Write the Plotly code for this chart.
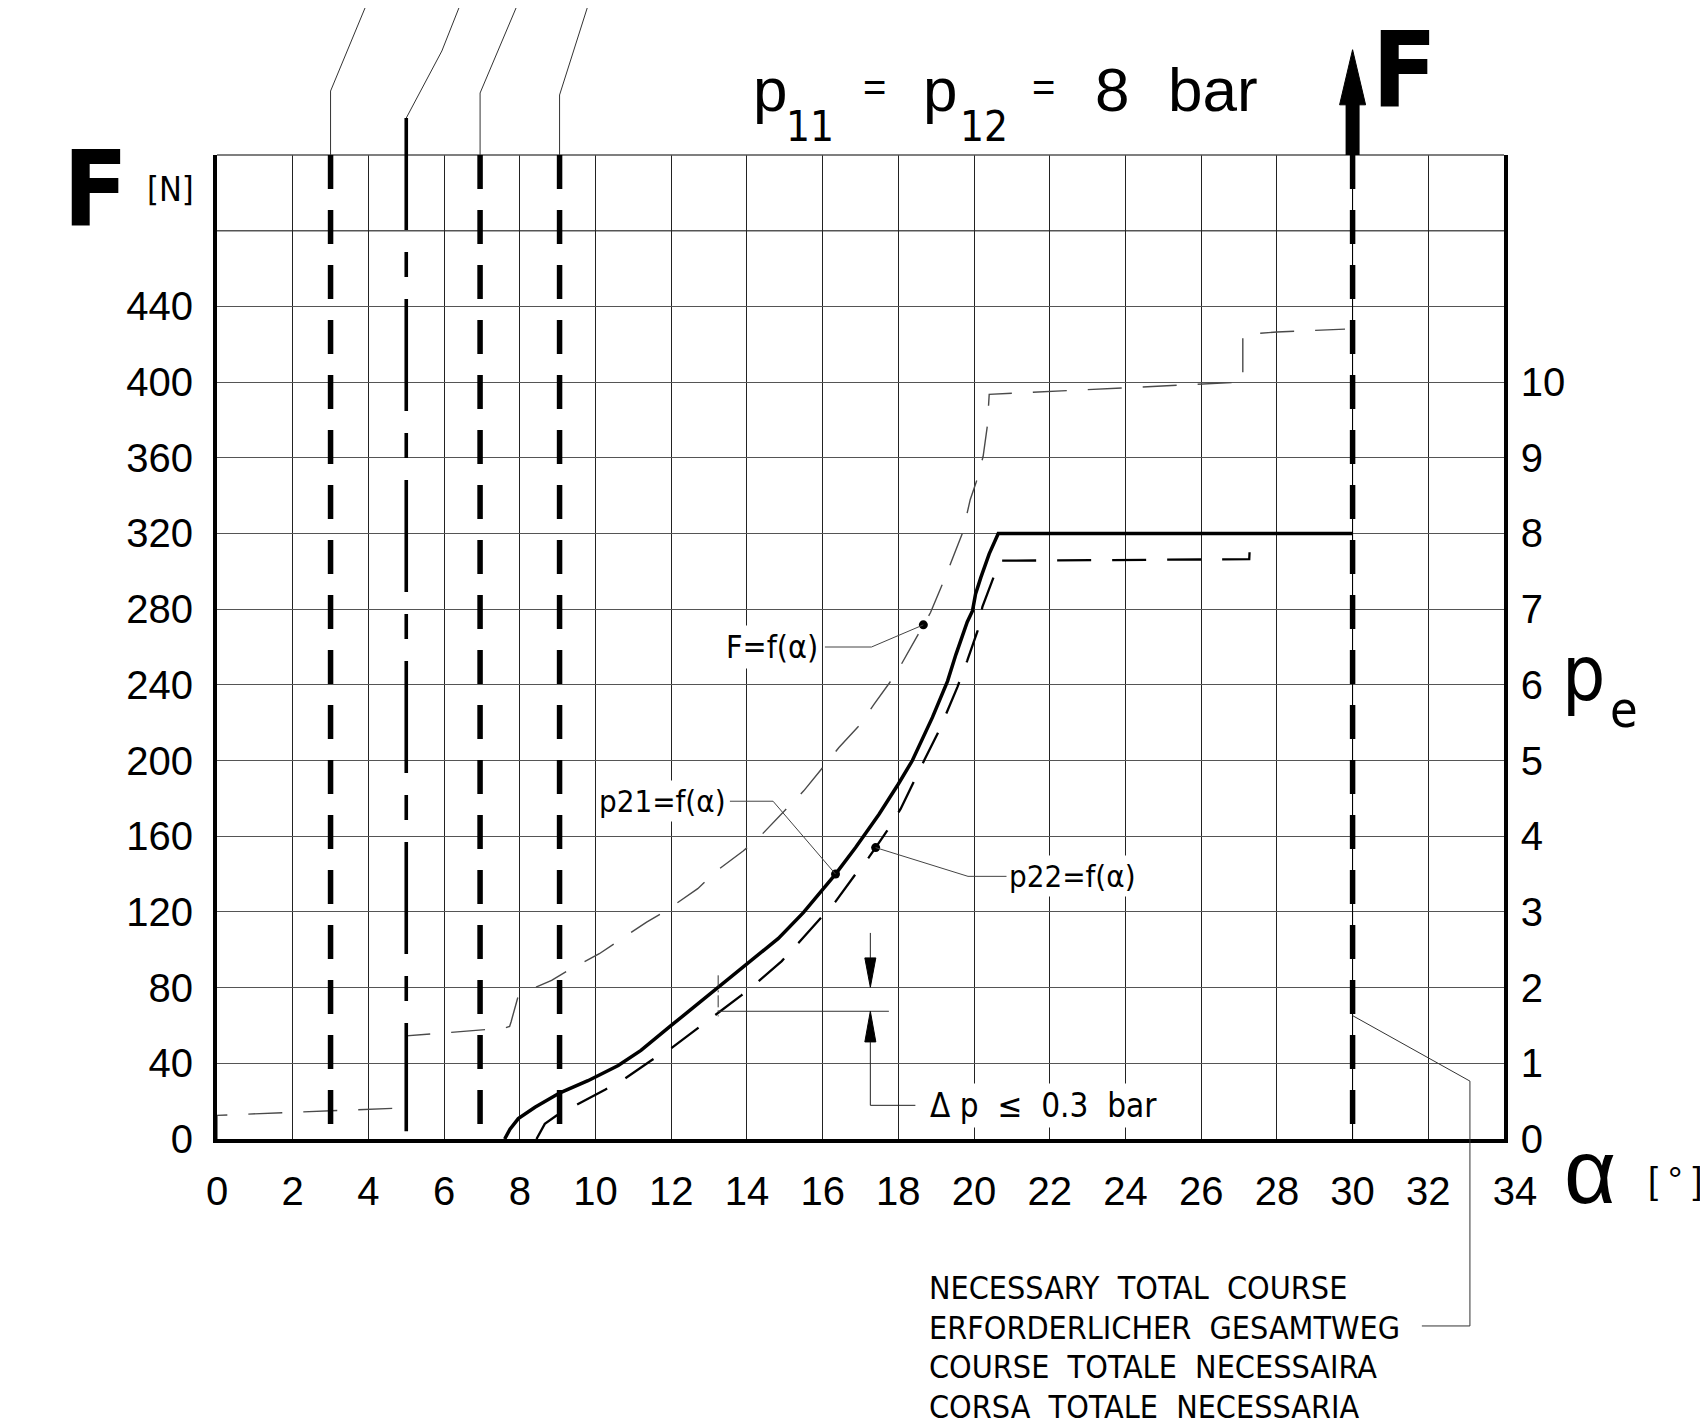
import plotly.graph_objects as go

# ---------------- data ----------------
alpha_ticks = [0, 2, 4, 6, 8, 10, 12, 14, 16, 18, 20, 22, 24, 26, 28, 30, 32, 34]
alpha_labels = ["0", "2", "4", "6", "8", "10", "12", "14", "16", "18", "20", "22",
                "24", "26", "28", "30", "32", "\u00a0\u00a034"]
force_ticks = [0, 40, 80, 120, 160, 200, 240, 280, 320, 360, 400, 440]
force_labels = ["0", "40", "80", "120", "160", "200", "240", "280", "320", "360",
                "400", "440"]
force_grid_extra = [480]
pe_ticks = [0, 1, 2, 3, 4, 5, 6, 7, 8, 9, 10]
pe_labels = ["0", "1", "2", "3", "4", "5", "6", "7", "8", "9", "10"]

# F = f(alpha)  [N]
F_alpha = [0, 0, 5.0, 5.0, 7.6, 7.73, 7.77, 7.95, 8.4, 8.84, 9.3, 10.1, 10.6, 11.35,
           11.85, 12.7, 13.2, 13.9, 14.36, 15.07, 15.5, 16.04, 16.43, 17.0, 17.36,
           17.93, 18.28, 18.66, 18.85, 19.2, 19.52, 19.7, 19.9, 20.08, 20.24, 20.35,
           20.4, 27.1, 27.1, 28.0, 29.8]
F_force = [0, 12.5, 16.5, 54.5, 58.6, 59.5, 62, 75, 80, 83.8, 89.4, 97.9, 104.6, 114.6,
           120.5, 132.3, 141.7, 152.2, 160.2, 175.2, 184, 197.2, 206.9, 219.2, 229.8,
           245.6, 258, 271.7, 278.2, 295, 310.8, 320.5, 338, 348.5, 360.8, 376.7,
           393.5, 400, 425, 426.5, 428]

# p21 = f(alpha)  [bar]
p21_alpha = [7.6, 7.74, 7.96, 8.4, 9.06, 9.8, 10.6, 11.2, 12.0, 12.71, 13.24, 13.99,
             14.83, 15.49, 16.02, 16.34, 16.87, 17.49, 18.0, 18.37, 18.9, 19.3, 19.52,
             19.82, 19.96, 20.04, 20.18, 20.4, 20.64, 30.0]
p21_bar = [0, 0.13, 0.27, 0.42, 0.61, 0.77, 0.97, 1.17, 1.5, 1.79, 2.0, 2.3, 2.65,
           2.99, 3.31, 3.5, 3.85, 4.29, 4.69, 5.0, 5.57, 6.05, 6.4, 6.83, 6.98, 7.2,
           7.42, 7.73, 8.0, 8.0]

# p22 = f(alpha)  [bar]
p22_alpha = [8.44, 8.66, 8.97, 9.5, 10.25, 10.78, 11.48, 12.0, 12.67, 13.15, 13.86,
             14.3, 14.92, 15.36, 15.93, 16.33, 16.87, 17.22, 17.4, 17.7, 18.06, 18.41,
             18.68, 19.07, 19.56, 19.82, 20.09, 20.22, 20.53, 20.66, 27.27, 27.3]
p22_bar = [0, 0.2, 0.31, 0.45, 0.65, 0.8, 1.04, 1.2, 1.45, 1.63, 1.9, 2.08, 2.35, 2.59,
           2.9, 3.13, 3.5, 3.72, 3.85, 4.07, 4.36, 4.73, 5.0, 5.39, 5.97, 6.32, 6.71,
           7.03, 7.44, 7.64, 7.66, 8.0]

# marked points on the curves
F_mark = [18.66, 271.7]
p21_mark = [16.34, 3.5]
p22_mark = [17.4, 3.85]

# vertical reference positions [deg]
stop_alpha = [3.0, 6.95, 9.05]
dashdot_alpha = [5.0]
course_alpha = [30.0]

# delta-p dimension [deg, N]
dp_alpha = 17.26
dp_low = 67.5
dp_high = 80.2

course_text = ["NECESSARY  TOTAL  COURSE", "ERFORDERLICHER  GESAMTWEG",
               "COURSE  TOTALE  NECESSAIRA", "CORSA  TOTALE  NECESSARIA"]

# ---------------- geometry helpers ----------------
W, H = 1708, 1424
L, R, T, B = 209, 212, 147, 293
PW, PH = W - L - R, H - T - B
YMAX = 520.0


def px(X):
    return (X - L) / PW


def py(Y):
    return (H - B - Y) / PH


def yp(v):  # data (N) -> paper
    return v / YMAX


CAD = "Liberation Sans Narrow, DejaVu Sans Condensed, Arial Narrow, sans-serif"
NUM = "Liberation Sans, Arial, sans-serif"
DASH = "34px,21px"

fig = go.Figure()

fig.add_trace(go.Scatter(x=F_alpha, y=F_force, mode="lines", yaxis="y",
                         line=dict(color="#4a4a4a", width=1.4, dash=DASH),
                         hoverinfo="skip", showlegend=False))
fig.add_trace(go.Scatter(x=p22_alpha, y=p22_bar, mode="lines", yaxis="y2",
                         line=dict(color="black", width=2.3, dash=DASH),
                         hoverinfo="skip", showlegend=False))
fig.add_trace(go.Scatter(x=p21_alpha, y=p21_bar, mode="lines", yaxis="y2",
                         line=dict(color="black", width=3.5),
                         hoverinfo="skip", showlegend=False))
fig.add_trace(go.Scatter(x=[F_mark[0]], y=[F_mark[1]], mode="markers", yaxis="y",
                         marker=dict(color="black", size=9), showlegend=False))
fig.add_trace(go.Scatter(x=[p21_mark[0], p22_mark[0]], y=[p21_mark[1], p22_mark[1]],
                         mode="markers", yaxis="y2",
                         marker=dict(color="black", size=9), showlegend=False))

shapes = []
# top border and extra gridline above the labelled range
shapes.append(dict(type="line", xref="paper", yref="paper", x0=0, x1=1, y0=1, y1=1,
                   line=dict(color="#555", width=1.6)))
for g in force_grid_extra:
    shapes.append(dict(type="line", xref="paper", yref="y", x0=0, x1=1, y0=g, y1=g,
                       layer="below", line=dict(color="#555", width=1.4)))

# thick dashed stop lines + leaders
leader_tops = [(1.065, 3.91), (1.063, 7.9), (1.061, 9.78)]
for a, (ytop, xend) in zip(stop_alpha, leader_tops):
    shapes.append(dict(type="line", xref="x", yref="paper", x0=a, x1=a, y0=1.0, y1=0.013,
                       line=dict(color="black", width=5.5, dash=DASH)))
    shapes.append(dict(type="path", xref="x", yref="paper",
                       path=f"M{a},1.0 L{a},{ytop} L{xend},{py(0)}",
                       line=dict(color="#333", width=1)))

# dash-dot line + leader
for a in dashdot_alpha:
    shapes.append(dict(type="line", xref="x", yref="paper", x0=a, x1=a, y0=1.0376, y1=0.008,
                       line=dict(color="black", width=3.6, dash="112px,22px,25px,22px")))
    shapes.append(dict(type="path", xref="x", yref="paper",
                       path=f"M{a},1.0376 L5.94,1.1057 L6.39,{py(0)}",
                       line=dict(color="#333", width=1)))

# necessary total course line, arrow and leader
for a in course_alpha:
    shapes.append(dict(type="line", xref="x", yref="paper", x0=a, x1=a, y0=1.0, y1=0.0,
                       line=dict(color="black", width=1)))
    shapes.append(dict(type="line", xref="x", yref="paper", x0=a, x1=a, y0=1.0, y1=0.01,
                       line=dict(color="black", width=5.5, dash=DASH)))
    shapes.append(dict(type="line", xref="x", yref="paper", x0=a, x1=a, y0=1.0, y1=1.053,
                       line=dict(color="black", width=14)))
    hw = 13 / (PW / 34)
    shapes.append(dict(type="path", xref="x", yref="paper",
                       path=f"M{a - hw},1.051 L{a},1.107 L{a + hw},1.051 Z",
                       fillcolor="black", line=dict(color="black", width=1)))
    shapes.append(dict(type="path", xref="x", yref="paper",
                       path=f"M{a},{yp(65.2)} L33.1,{yp(30.6)} L33.1,-0.19 L31.83,-0.19",
                       line=dict(color="#333", width=1)))

# label leaders
shapes.append(dict(type="path", xref="x", yref="y",
                   path=f"M16.06,260 L17.29,260 L{F_mark[0]},{F_mark[1]}",
                   line=dict(color="#444", width=1)))
shapes.append(dict(type="path", xref="x", yref="y",
                   path=f"M13.55,178.5 L14.69,178.5 L{p21_mark[0]},{p21_mark[1] * 40}",
                   line=dict(color="#444", width=1)))
shapes.append(dict(type="path", xref="x", yref="y",
                   path=f"M{p22_mark[0]},{p22_mark[1] * 40} L19.84,138.8 L20.9,138.8",
                   line=dict(color="#444", width=1)))

# delta-p dimension
shapes.append(dict(type="line", xref="x", yref="y", x0=13.24, x1=17.75, y0=dp_low, y1=dp_low,
                   line=dict(color="#333", width=1)))
shapes.append(dict(type="line", xref="x", yref="y", x0=13.24, x1=13.24, y0=86.5, y1=64.8,
                   line=dict(color="#333", width=1, dash="12px,3px,2px,3px")))
shapes.append(dict(type="line", xref="x", yref="y", x0=dp_alpha, x1=dp_alpha, y0=108.9,
                   y1=95.7, line=dict(color="#222", width=1)))
ahw = 5.5 / (PW / 34)
shapes.append(dict(type="path", xref="x", yref="y",
                   path=f"M{dp_alpha - ahw},95.7 L{dp_alpha},{dp_high} L{dp_alpha + ahw},95.7 Z",
                   fillcolor="black", line=dict(color="black", width=1)))
shapes.append(dict(type="path", xref="x", yref="y",
                   path=f"M{dp_alpha - ahw},51.3 L{dp_alpha},{dp_low} L{dp_alpha + ahw},51.3 Z",
                   fillcolor="black", line=dict(color="black", width=1)))
shapes.append(dict(type="path", xref="x", yref="y",
                   path=f"M{dp_alpha},51.3 L{dp_alpha},17.8 L18.45,17.8",
                   line=dict(color="#222", width=1)))

ann = []


def txt(text, x, y, size, xanchor="center", yanchor="middle", family=CAD, xref="paper",
        yref="paper", bold=False, bg=None, pad=1):
    d = dict(text=f"<b>{text}</b>" if bold else text, x=x, y=y, xref=xref, yref=yref,
             xanchor=xanchor, yanchor=yanchor, showarrow=False, borderpad=pad,
             font=dict(family=family, size=size, color="black"))
    if bg:
        d["bgcolor"] = bg
        d["borderpad"] = 2
    ann.append(d)


# left axis title
txt("F", px(87), py(218 - 0.3465 * 106), 106, bold=True)
txt("[N]", px(162), py(181), 34)
# big F at arrow
txt("F", px(1396), py(99 - 0.3465 * 106), 106, bold=True)

# title p11 = p12 = 8 bar
main_c = py(103 - 0.3465 * 62)
sub_c = py(133 - 0.3465 * 42)
eq_c = py(92.6 - 0.3465 * 40)
txt("p", px(743), main_c, 62, xanchor="left", family=NUM)
txt("11", px(776), sub_c, 42, xanchor="left", family=CAD)
txt("=", px(853), eq_c, 40, xanchor="left", family=NUM)
txt("p", px(913), main_c, 62, xanchor="left", family=NUM)
txt("12", px(950), sub_c, 42, xanchor="left", family=CAD)
txt("=", px(1022), eq_c, 40, xanchor="left", family=NUM)
txt("8", px(1085), main_c, 62, xanchor="left", family=NUM)
txt("bar", px(1158), main_c, 62, xanchor="left", family=NUM)

# right axis title pe (p with subscript e)
txt("p", px(1553), py(692 - 0.3465 * 76), 76, xanchor="left", family=CAD, pad=0)
txt("e", px(1601), py(719 - 0.3465 * 50), 50, xanchor="left", family=CAD, pad=0)

# alpha axis title
txt("α", px(1582), py(1195 - 0.3465 * 90), 90, family=NUM)
txt("[ ° ]", px(1638), py(1172), 36, xanchor="left", family=NUM)

# curve labels
txt("F=f(α)", 15.95, 260, 32, xanchor="right", xref="x", yref="y", bg="white")
txt("p21=f(α)", 13.52, 178.5, 31, xanchor="right", xref="x", yref="y", bg="white")
txt("p22=f(α)", 20.85, 138.8, 31, xanchor="left", xref="x", yref="y", bg="white")
txt("Δ p  ≤  0.3  bar", 18.75, 17.5, 33, xanchor="left", xref="x", yref="y", bg="white")

# necessary total course text
for i, line in enumerate(course_text):
    txt(line, px(919), py(1280 + 39.5 * i), 32, xanchor="left")

fig.update_layout(
    width=W, height=H,
    margin=dict(l=L, r=R, t=T, b=B, pad=0),
    paper_bgcolor="white", plot_bgcolor="white",
    showlegend=False,
    xaxis=dict(range=[0, 34], tickvals=alpha_ticks, ticktext=alpha_labels,
               showgrid=True, gridcolor="#222", gridwidth=1, zeroline=False,
               showline=True, linecolor="black", linewidth=4,
               ticks="outside", ticklen=14, tickcolor="rgba(0,0,0,0)",
               tickfont=dict(family=NUM, size=40, color="black"), fixedrange=True),
    yaxis=dict(range=[0, YMAX], tickvals=force_ticks, ticktext=force_labels,
               showgrid=True, gridcolor="#555", gridwidth=1.4, zeroline=False,
               showline=True, linecolor="black", linewidth=4,
               ticks="outside", ticklen=12, tickcolor="rgba(0,0,0,0)",
               tickfont=dict(family=NUM, size=40, color="black"), fixedrange=True),
    yaxis2=dict(range=[0, YMAX / 40], overlaying="y", side="right",
                tickvals=pe_ticks, ticktext=pe_labels, showgrid=False, zeroline=False,
                showline=True, linecolor="black", linewidth=3.6,
                ticks="outside", ticklen=5, tickcolor="rgba(0,0,0,0)",
                tickfont=dict(family=NUM, size=40, color="black"), fixedrange=True),
    shapes=shapes,
    annotations=ann,
)

fig.write_html("out.html")
